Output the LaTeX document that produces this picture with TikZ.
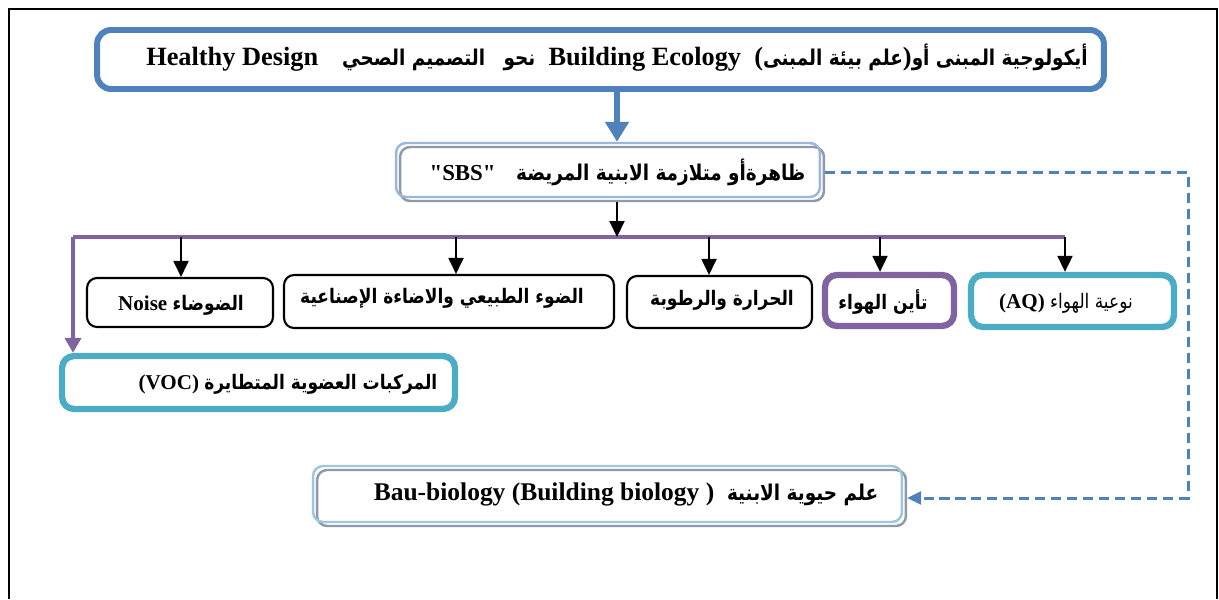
\documentclass[tikz,border=0pt]{standalone}
\usepackage{fontspec}
\setmainfont{Liberation Serif}
\newfontfamily\arfont[Script=Arabic,Scale=0.95,FakeStretch=0.85]{DejaVu Sans}
\TeXXeTstate=1
\usetikzlibrary{arrows.meta}
\definecolor{hdblue}{HTML}{4F81BD}
\definecolor{sbsblue}{HTML}{9BB7DB}
\definecolor{baublue}{HTML}{9CC9DA}
\definecolor{shadowgray}{HTML}{8E9AAA}
\definecolor{hdpurple}{HTML}{8064A2}
\definecolor{hdteal}{HTML}{4BACC6}
\newcommand\AR[1]{{\arfont\beginR#1\endR}}
\newcommand\ARs[1]{{\fontsize{13}{16}\selectfont\arfont\beginR#1\endR}}
\begin{document}
\begin{tikzpicture}[x=0.02cm,y=-0.02cm,
  frameline/.style={line width=1.2pt,black},
  titlebox/.style={draw=hdblue,line width=3.4pt,rounded corners=0.28cm,inner sep=0pt},
  dblfront/.style={draw=#1,line width=1.4pt,rounded corners=0.2cm,inner sep=0pt},
  dblback/.style={draw=shadowgray,line width=1.4pt,rounded corners=0.2cm,inner sep=0pt},
  plainbox/.style={draw=black,line width=1.2pt,rounded corners=0.2cm,inner sep=0pt},
  accentbox/.style={draw=#1,line width=3.6pt,rounded corners=0.24cm,inner sep=0pt},
  label/.style={inner sep=0pt,font=\bfseries\fontsize{12}{14}\selectfont},
  bigarrow/.style={draw=hdblue,line width=3.6pt,-{Triangle[length=0.4cm,width=0.46cm]}},
  blackarrow/.style={draw=black,line width=1.1pt,-{Triangle[length=0.32cm,width=0.3cm]}},
  busline/.style={draw=hdpurple,line width=2.8pt},
  busarrow/.style={draw=hdpurple,line width=2.8pt,-{Triangle[length=0.3cm,width=0.32cm]}},
  dashline/.style={draw=hdblue,line width=1.7pt,dash pattern=on 5.7pt off 3.4pt,-{Triangle[length=0.28cm,width=0.26cm]}}
]
\useasboundingbox (0,0) rectangle (1219,599);
\fill[white] (0,0) rectangle (1219,599);
\draw[frameline] (9,599) -- (9,9) -- (1217,9) -- (1217,599);

% title box
\node[titlebox,minimum width=20.14cm,minimum height=1.18cm] (top) at (600.5,59.5) {};
\node[label,font=\bfseries\fontsize{15}{18}\selectfont] (topT) at (617,58)
  {Healthy Design\hspace{0.9em}\ARs{التصميم الصحي}\hspace{0.7em}\ARs{نحو}\hspace{0.5em}Building Ecology\hspace{0.5em}(\ARs{علم بيئة المبنى})\ARs{أيكولوجية المبنى أو}};

% SBS box (shadowed double outline)
\node[dblback,minimum width=8.48cm,minimum height=1.08cm] (sbsS) at (612,174) {};
\node[dblfront=sbsblue,minimum width=8.48cm,minimum height=1.08cm] (sbs) at (608,170) {};
\node[label,font=\bfseries\fontsize{13}{16}\selectfont] (sbsT) at (617.5,172)
  {\textquotedbl SBS\textquotedbl\hspace{0.9em}\AR{ظاهرةأو متلازمة  الابنية المريضة}};

% row of factors
\node[plainbox,minimum width=3.72cm,minimum height=0.98cm] (noise) at (180,302.5) {};
\node[label] (noiseT) at (181,305) {Noise \AR{الضوضاء}};
\node[plainbox,minimum width=6.6cm,minimum height=1.06cm] (light) at (449,301.5) {};
\node[label] (lightT) at (442,298) {\AR{الضوء الطبيعي والاضاءة الإصناعية}};
\node[plainbox,minimum width=3.7cm,minimum height=1.04cm] (heat) at (719.5,302) {};
\node[label] (heatT) at (722,300) {\AR{الحرارة والرطوبة}};
\node[accentbox=hdpurple,minimum width=2.58cm,minimum height=1.02cm] (ion) at (889.5,300.5) {};
\node[label] (ionT) at (883,302) {\AR{تأين الهواء}};
\node[accentbox=hdteal,minimum width=4.06cm,minimum height=1.04cm] (aq) at (1072.5,301) {};
\node[label] (aqT) at (1066,303) {(AQ) {\mdseries\AR{نوعية الهواء}}};

% VOC box
\node[accentbox=hdteal,minimum width=7.86cm,minimum height=1.06cm] (voc) at (258.5,382.5) {};
\node[label] (vocT) at (288,384) {(VOC) \AR{المركبات العضوية المتطايرة}};

% building biology box (shadowed double outline)
\node[dblback,minimum width=11.78cm,minimum height=1.12cm] (bauS) at (611.5,498) {};
\node[dblfront=baublue,minimum width=11.78cm,minimum height=1.12cm] (bau) at (607.5,494) {};
\node[label,font=\bfseries\fontsize{14.5}{17}\selectfont] (bauT) at (626,494)
  {Bau-biology (Building biology )\hspace{0.5em}\ARs{علم حيوية الابنية}};

% connectors
\coordinate (spine) at (617,0);
\coordinate (busL) at (73,237);
\coordinate (busR) at (1065,237);
\draw[bigarrow] (top.south -| spine) -- (sbs.north -| spine);
\draw[busline] (busR) -- (busL);
\draw[busarrow] (busL) -- (busL |- voc.north);
\draw[blackarrow] (sbsS.south -| spine) -- (spine |- busL);

\coordinate (a1) at (181,237);
\coordinate (a2) at (456,237);
\coordinate (a3) at (709,237);
\coordinate (a4) at (880,237);
\draw[blackarrow] (a1) -- (a1 |- noise.north);
\draw[blackarrow] (a2) -- (a2 |- light.north);
\draw[blackarrow] (a3) -- (a3 |- heat.north);
\draw[blackarrow] (a4) -- (a4 |- ion.north);
\draw[blackarrow] (busR) -- (busR |- aq.north);

\coordinate (dR) at (1188,172);
\draw[dashline] (sbsS.east |- dR) -- (dR) -- (dR |- bauS.east) -- (bauS.east);
\end{tikzpicture}
\end{document}
